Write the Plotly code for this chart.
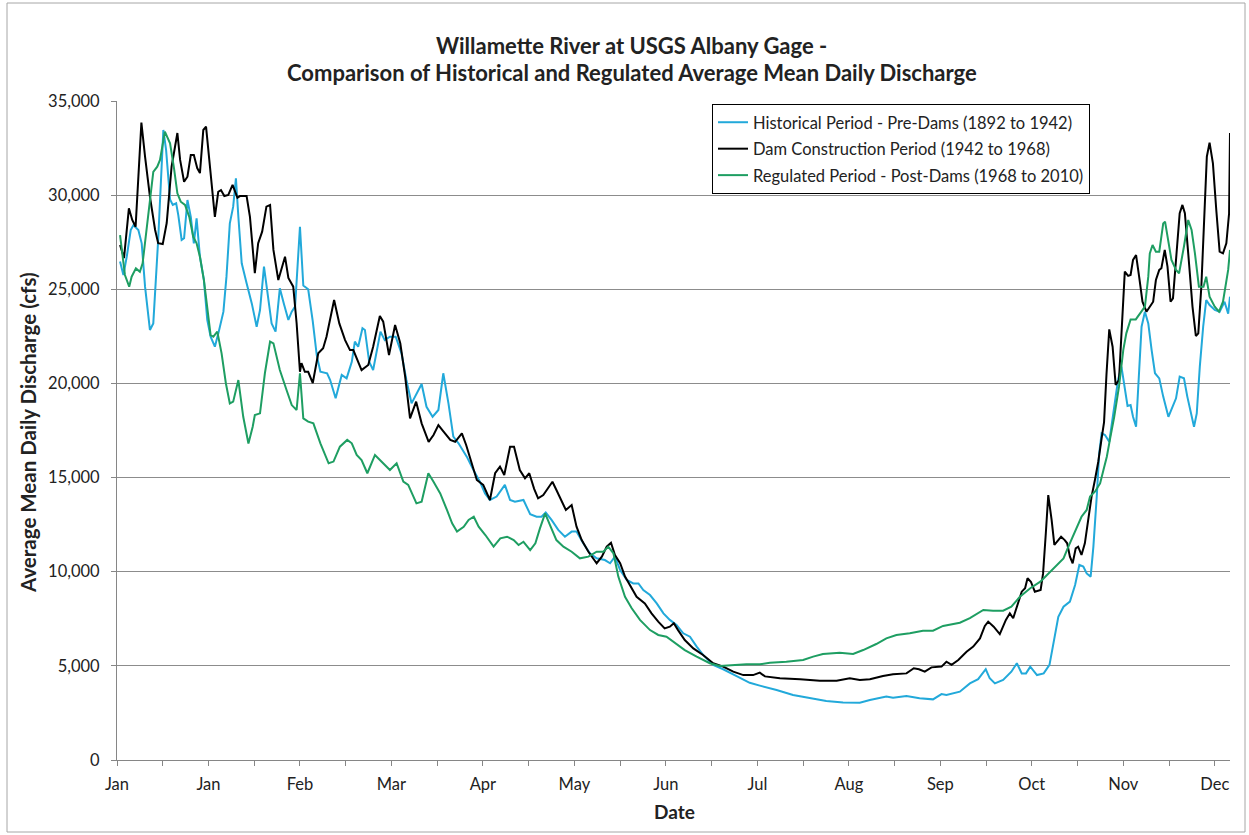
import plotly.graph_objects as go

# ---------------- data ----------------
month_days = [0, 30, 60, 90, 120, 150, 180, 210, 240, 270, 300, 330, 360]
month_labels = ["Jan", "Jan", "Feb", "Mar", "Apr", "May", "Jun",
                "Jul", "Aug", "Sep", "Oct", "Nov", "Dec"]

hist_day = [1.0, 2.1, 3.2, 4.5, 5.4, 7.0, 8.1, 9.2, 10.8, 11.9, 13.5, 14.3, 15.2, 16.1,
            17.4, 18.3, 19.4, 20.1, 21.2, 22.0, 23.1, 24.2, 25.2, 26.1, 27.2, 28.5, 29.6,
            30.7, 32.1, 33.5, 34.9, 35.9, 37.0, 38.1, 39.0, 39.8, 40.9, 42.5, 44.2, 45.8,
            46.9, 48.2, 49.1, 50.7, 52.0, 53.4, 54.7, 56.2, 57.3, 58.4, 60.0, 61.1, 62.7,
            64.2, 65.5, 66.7, 68.9, 69.9, 71.7, 73.7, 75.3, 77.0, 78.0, 79.1, 80.5, 81.3,
            82.7, 84.0, 86.4, 87.8, 89.5, 91.4, 93.3, 94.9, 96.6, 98.2, 99.9, 101.5, 103.5,
            105.4, 107.0, 108.7, 110.3, 112.0, 114.7, 116.9, 119.0, 120.7, 122.3, 124.5,
            127.2, 128.9, 130.5, 133.3, 135.5, 137.6, 139.2, 140.6, 142.5, 144.7, 146.9,
            149.1, 150.7, 152.9, 155.1, 157.3, 160.0, 161.7, 163.3, 165.0, 167.2, 169.3,
            171.0, 172.6, 174.8, 177.0, 179.2, 181.3, 183.5, 185.7, 187.9, 190.1, 192.2,
            195.5, 198.8, 203.2, 207.5, 210.8, 216.3, 221.7, 227.2, 232.6, 238.1, 243.6,
            246.9, 250.1, 252.3, 254.5, 258.9, 263.2, 267.6, 270.4, 272.0, 276.4, 279.7,
            282.4, 284.1, 284.9, 286.2, 287.9, 290.6, 293.3, 295.1, 296.7, 298.1, 299.5,
            301.7, 303.9, 305.8, 307.2, 308.7, 310.4, 312.5, 314.2, 315.6, 316.9, 318.0,
            319.3, 320.2, 321.3, 322.1, 322.9, 324.0, 325.4, 326.5, 327.6, 328.3, 329.4,
            330.5, 331.4, 332.4, 333.2, 334.2, 335.2, 336.0, 337.1, 338.2, 339.3, 340.4,
            341.8, 343.1, 344.8, 345.8, 347.3, 348.5, 349.9, 351.0, 352.1, 353.2, 354.1,
            355.1, 356.2, 357.2, 358.3, 360.0, 361.6, 363.2, 364.4, 365.0]
hist_cfs = [26470, 25760, 26730, 28150, 28410, 28150, 27440, 25140, 22840, 23190, 27620,
            30270, 33460, 32400, 29770, 29480, 29570, 28940, 27620, 27710, 29740, 28850,
            27440, 28770, 26730, 25490, 23370, 22480, 21950, 22840, 23810, 25670, 28500,
            29390, 30890, 28850, 26380, 25320, 24250, 23010, 23900, 26200, 25140, 23190,
            22750, 25050, 24250, 23370, 23810, 24080, 28320, 25200, 25000, 23300, 21500,
            20620, 20540, 20180, 19210, 20450, 20270, 21150, 22220, 21950, 22930, 22840,
            21150, 20710, 22750, 22300, 22480, 22480, 21600, 20180, 18940, 19470, 19970,
            18760, 18230, 18590, 20540, 18940, 17170, 16820, 16110, 15400, 14780, 14160,
            13810, 13990, 14610, 13810, 13720, 13810, 13050, 12920, 12920, 13140, 12750,
            12220, 11860, 12130, 12130, 11510, 10980, 10710, 10620, 10450, 10800, 10090,
            9560, 9380, 9380, 9030, 8760, 8320, 7790, 7440, 7170, 6730, 6550, 6020, 5580,
            5050, 4820, 4460, 4100, 3950, 3720, 3450, 3280, 3130, 3060, 3040, 3190, 3280,
            3370, 3310, 3400, 3280, 3220, 3500, 3450, 3630, 4070, 4290, 4690, 4820, 4340,
            4070, 4250, 4690, 5140, 4600, 4600, 4960, 4510, 4600, 5050, 6370, 7610, 8140,
            8410, 9290, 10360, 10270, 9910, 9740, 11330, 13990, 16280, 17350, 17260, 16900,
            18230, 19560, 20200, 20890, 19800, 18800, 18850, 18230, 17700, 20540, 23010,
            23810, 23190, 21770, 20540, 20270, 19300, 18230, 18590, 19210, 20360, 20270,
            19300, 18410, 17700, 18410, 20890, 23010, 24430, 24160, 23900, 23810, 24340,
            23700, 24610]

dam_day = [1.0, 2.3, 3.9, 5.0, 6.1, 8.0, 9.2, 10.8, 12.5, 13.5, 15.0, 16.3, 17.9, 19.8,
           20.7, 22.0, 23.1, 24.2, 25.2, 26.3, 27.2, 28.3, 29.2, 30.5, 32.1, 33.2, 34.1,
           35.2, 36.5, 37.9, 39.5, 40.3, 42.5, 43.6, 45.2, 46.3, 47.6, 49.0, 50.2, 51.3,
           52.9, 55.1, 56.2, 57.8, 58.9, 60.0, 60.5, 61.6, 62.7, 64.2, 65.5, 66.0, 67.6,
           68.7, 71.2, 72.9, 74.8, 76.4, 77.5, 80.2, 82.4, 84.0, 86.2, 87.3, 89.2, 91.2,
           92.9, 94.5, 96.1, 98.1, 99.9, 102.2, 103.8, 105.4, 107.1, 109.3, 110.9, 113.1,
           114.5, 116.4, 118.0, 120.1, 122.3, 124.0, 125.6, 127.0, 128.9, 130.2, 132.1,
           133.8, 135.2, 136.8, 138.1, 139.8, 141.4, 142.8, 144.1, 145.8, 147.2, 149.1,
           150.7, 152.4, 154.6, 157.3, 159.0, 160.6, 162.0, 163.3, 165.0, 166.6, 168.2,
           170.4, 173.1, 175.3, 177.5, 179.6, 181.3, 182.6, 184.0, 186.2, 189.0, 192.2,
           195.5, 198.8, 202.1, 205.4, 208.6, 210.8, 212.5, 217.4, 224.0, 230.5, 236.0,
           240.3, 243.6, 246.9, 251.2, 254.5, 258.9, 261.3, 263.0, 264.9, 267.1, 270.4,
           272.0, 273.7, 275.9, 278.6, 280.8, 283.0, 284.6, 285.7, 287.5, 289.5, 291.5,
           292.8, 293.9, 295.1, 296.7, 297.8, 298.6, 299.7, 301.0, 302.9, 303.7, 304.6,
           305.4, 306.5, 307.4, 308.7, 309.6, 310.8, 311.6, 312.5, 313.4, 314.4, 315.2,
           316.3, 317.4, 318.5, 319.6, 320.7, 321.8, 322.9, 323.7, 324.5, 325.4, 326.5,
           327.5, 328.6, 329.7, 330.5, 331.6, 332.4, 333.2, 334.2, 335.2, 336.3, 337.6,
           338.9, 339.8, 340.7, 341.8, 342.5, 343.6, 344.5, 345.5, 346.3, 347.6, 348.5,
           349.4, 350.2, 351.3, 352.7, 353.8, 354.6, 355.6, 356.7, 357.4, 358.3, 359.4,
           360.5, 361.6, 362.7, 363.8, 364.7, 365.0]
dam_cfs = [27350, 26660, 29300, 28680, 28320, 33850, 32040, 29920, 28150, 27450, 27400,
           28520, 31510, 33300, 31870, 30710, 30980, 32130, 32130, 31440, 31170, 33460,
           33640, 31510, 28850, 30180, 30270, 29950, 30010, 30540, 29860, 29950, 29950,
           28850, 25860, 27450, 28060, 29390, 29480, 27090, 25490, 26730, 25600, 25140,
           23210, 20620, 21080, 20620, 20620, 20020, 21080, 21600, 21870, 22480, 24430,
           23190, 22300, 21770, 21770, 20710, 20980, 21950, 23580, 23280, 21510, 23100,
           22130, 20360, 18140, 19030, 17880, 16900, 17260, 17790, 17440, 17000, 16900,
           17350, 16730, 15670, 14870, 14610, 13810, 15230, 15580, 15140, 16640, 16640,
           15400, 14960, 15230, 14400, 13900, 14070, 14430, 14780, 14340, 13720, 13280,
           13540, 12390, 11680, 11060, 10450, 10800, 11330, 11540, 10890, 10450, 9740,
           9290, 8670, 8320, 7790, 7350, 6990, 7080, 7260, 6900, 6370, 5930, 5580, 5140,
           4960, 4690, 4510, 4510, 4640, 4440, 4340, 4290, 4210, 4210, 4340, 4250, 4290,
           4460, 4550, 4600, 4870, 4820, 4690, 4920, 4960, 5220, 5050, 5310, 5750, 6020,
           6460, 7120, 7350, 7080, 6690, 7440, 7790, 7530, 8140, 8940, 9120, 9650, 9470,
           8940, 9030, 9910, 12040, 14070, 12750, 11420, 11680, 11860, 11680, 11510, 10800,
           10450, 11240, 11330, 10890, 11510, 12750, 13990, 14870, 15840, 17080, 17950,
           20500, 22870, 21950, 19920, 20180, 23370, 25940, 25710, 25760, 26560, 26820,
           25670, 24340, 23810, 24160, 24340, 25490, 26030, 26120, 27090, 26200, 24340,
           24520, 27270, 29040, 29480, 29040, 26910, 24080, 22520, 22660, 25140, 29570,
           32040, 32790, 31690, 29210, 27000, 26910, 27440, 29040, 33300]

reg_day = [1.0, 1.8, 2.6, 4.0, 4.8, 6.2, 7.5, 8.4, 10.3, 11.9, 13.2, 14.1, 15.7, 17.4,
           18.7, 19.8, 20.9, 22.3, 23.7, 25.0, 26.1, 27.2, 28.5, 29.6, 30.7, 31.6, 32.9,
           34.3, 35.7, 37.0, 38.1, 39.8, 41.4, 43.1, 44.5, 45.2, 46.9, 48.5, 50.2, 51.3,
           53.4, 55.6, 57.3, 58.9, 60.0, 61.1, 62.7, 64.4, 66.7, 69.4, 71.0, 73.1, 75.5,
           77.0, 78.6, 80.2, 82.1, 84.6, 86.8, 89.5, 91.7, 93.9, 95.5, 98.2, 99.9, 102.1,
           103.8, 106.0, 108.2, 109.9, 111.5, 113.7, 115.3, 117.0, 118.6, 120.8, 123.5,
           125.7, 127.9, 130.1, 131.7, 133.3, 135.5, 137.2, 138.7, 140.4, 142.0, 144.1,
           146.4, 149.1, 151.8, 154.6, 157.3, 159.5, 161.1, 162.8, 164.4, 166.6, 168.8,
           171.5, 174.8, 177.5, 180.2, 183.0, 186.2, 190.1, 194.4, 197.7, 202.1, 206.4,
           210.8, 214.1, 219.5, 225.0, 228.3, 231.5, 237.0, 241.4, 244.7, 249.0, 252.3,
           255.6, 260.0, 264.3, 267.6, 270.9, 276.4, 279.7, 284.1, 287.3, 290.6, 293.3,
           296.1, 299.5, 302.8, 306.0, 308.7, 310.4, 312.0, 314.2, 316.3, 318.0, 319.1,
           320.7, 322.4, 323.5, 324.6, 325.7, 327.0, 328.6, 330.0, 331.0, 332.4, 334.1,
           335.4, 337.1, 338.2, 338.7, 339.6, 340.7, 341.8, 343.1, 343.7, 344.8, 345.8,
           347.3, 348.3, 349.9, 351.3, 352.4, 353.5, 354.8, 356.3, 357.2, 358.3, 360.0,
           361.4, 362.7, 364.4, 365.0]
reg_cfs = [27880, 26930, 25760, 25140, 25670, 26110, 25930, 26380, 29210, 31240, 31510,
           31870, 33370, 32750, 31420, 30100, 29650, 29480, 28850, 27790, 27440, 26730,
           25490, 23900, 22570, 22480, 22750, 21600, 20010, 18940, 19030, 20180, 18230,
           16810, 17700, 18320, 18410, 20540, 22220, 22130, 20710, 19650, 18850, 18590,
           20540, 18140, 17970, 17880, 16820, 15760, 15850, 16640, 17000, 16820, 16200,
           15930, 15230, 16200, 15840, 15400, 15760, 14780, 14610, 13630, 13720, 15230,
           14780, 14160, 13280, 12570, 12130, 12390, 12750, 12920, 12390, 11950, 11330,
           11770, 11860, 11680, 11420, 11590, 11150, 11510, 12300, 13100, 12480, 11680,
           11330, 11060, 10710, 10800, 11060, 11060, 11330, 10980, 9740, 8670, 8060, 7440,
           6900, 6640, 6550, 6200, 5840, 5490, 5140, 4990, 5050, 5080, 5080, 5170, 5220,
           5310, 5490, 5630, 5700, 5630, 5840, 6160, 6460, 6640, 6730, 6870, 6870, 7120,
           7290, 7530, 7970, 7930, 7930, 8140, 8670, 9120, 9470, 10000, 10450, 10710, 11330,
           12130, 12920, 13280, 13990, 14250, 14690, 15400, 16110, 17080, 18200, 19830,
           21770, 22660, 23400, 23400, 23720, 24080, 25670, 26910, 27350, 27000, 27000,
           28500, 28590, 27440, 26560, 26030, 25850, 27270, 28680, 28150, 26910, 25140,
           25140, 25670, 24610, 24080, 23810, 24340, 26030, 27090]

series_names = ["Historical Period - Pre-Dams (1892 to 1942)",
                "Dam Construction Period (1942 to 1968)",
                "Regulated Period - Post-Dams (1968 to 2010)"]

# ---------------- figure ----------------
FONT = "Lato"
W, H = 1249, 835
L, R, T, B = 117, 19, 101, 75
pw, ph = W - L - R, H - T - B

fig = go.Figure()
fig.add_trace(go.Scatter(x=hist_day, y=hist_cfs, mode="lines", name=series_names[0],
                         legendgroup="a", line=dict(color="#22A9DA", width=2)))
fig.add_trace(go.Scatter(x=dam_day, y=dam_cfs, mode="lines", name=series_names[1],
                         legendgroup="b", line=dict(color="#000000", width=2)))
fig.add_trace(go.Scatter(x=reg_day, y=reg_cfs, mode="lines", name=series_names[2],
                         legendgroup="c", line=dict(color="#1E9E62", width=2)))

tick_vals = []
tick_text = []
for i, d in enumerate(month_days):
    tick_vals.append(d)
    tick_text.append(month_labels[i])
    if i < len(month_days) - 1:
        tick_vals.append(d + 15)
        tick_text.append("")

fig.update_layout(
    width=W, height=H,
    margin=dict(l=L, r=R, t=T, b=B),
    paper_bgcolor="white", plot_bgcolor="white",
    font=dict(family=FONT, size=16, color="#222222"),
    showlegend=True,
    legend=dict(x=(712 - L) / pw, y=(760 - 104) / ph, xanchor="left", yanchor="top",
                bgcolor="white", bordercolor="#000000", borderwidth=1,
                font=dict(family=FONT, size=16.5, color="#222222"),
                itemwidth=30, tracegroupgap=2),
    xaxis=dict(range=[0, 365], tickmode="array", tickvals=tick_vals, ticktext=tick_text,
               showgrid=False, zeroline=False, showline=True, linecolor="#868686",
               linewidth=1, ticks="outside", ticklen=5, tickcolor="#868686",
               tickfont=dict(size=16.5, family=FONT), ticklabelstandoff=4),
    yaxis=dict(range=[0, 35000], dtick=5000, tickformat=",", showgrid=True,
               gridcolor="#8c8c8c", gridwidth=1, zeroline=False, showline=True,
               linecolor="#868686", ticks="outside", ticklen=5, tickcolor="#868686",
               tickfont=dict(size=16.5, family=FONT), ticklabelstandoff=8),
    annotations=[
        dict(text="<b>Willamette River at USGS Albany Gage -</b>", xref="paper", yref="paper",
             x=(631.5 - L) / pw, y=(760 - 45) / ph, xanchor="center", yanchor="middle",
             showarrow=False, font=dict(size=22, family=FONT, color="#222222")),
        dict(text="<b>Comparison of Historical and Regulated Average Mean Daily Discharge</b>",
             xref="paper", yref="paper",
             x=(631.5 - L) / pw, y=(760 - 72) / ph, xanchor="center", yanchor="middle",
             showarrow=False, font=dict(size=22, family=FONT, color="#222222")),
        dict(text="<b>Average Mean Daily Discharge (cfs)</b>", xref="paper", yref="paper",
             x=(28 - L) / pw, y=(760 - 433) / ph, xanchor="center", yanchor="middle",
             textangle=-90, showarrow=False, font=dict(size=20.5, family=FONT, color="#222222")),
        dict(text="<b>Date</b>", xref="paper", yref="paper",
             x=(674 - L) / pw, y=(760 - 812) / ph, xanchor="center", yanchor="middle",
             showarrow=False, font=dict(size=19, family=FONT, color="#222222")),
    ],
    shapes=[dict(type="rect", xref="paper", yref="paper",
                 x0=(7 - L) / pw, x1=(1245 - L) / pw,
                 y0=(760 - 832) / ph, y1=(760 - 3) / ph,
                 line=dict(color="#a6a6a6", width=1), fillcolor="rgba(0,0,0,0)", layer="below")],
)

fig.write_html("out.html")
